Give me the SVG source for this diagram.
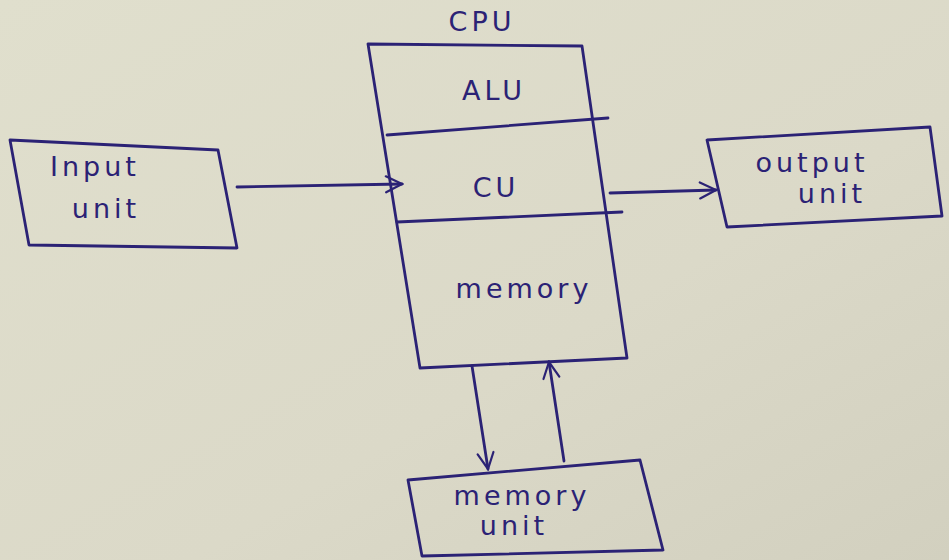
<svg xmlns="http://www.w3.org/2000/svg" width="949" height="560" viewBox="0 0 949 560">
<defs>
<linearGradient id="paper" x1="0" y1="0" x2="1" y2="1">
<stop offset="0" stop-color="#e0dfcd"/>
<stop offset="0.6" stop-color="#dbd9c8"/>
<stop offset="1" stop-color="#d2d0bf"/>
</linearGradient>
<marker id="ah" viewBox="0 0 20 20" refX="18" refY="10" markerWidth="20" markerHeight="20" markerUnits="userSpaceOnUse" orient="auto">
<path d="M2,2 L18,10 L2,18" fill="none" stroke="#2b2275" stroke-width="2.2" stroke-linecap="round"/>
</marker>
</defs>
<style>
.box{fill:none;stroke:#2b2275;stroke-width:2.8;stroke-linejoin:round}
.ln{fill:none;stroke:#2b2275;stroke-width:2.8;stroke-linecap:round}
.t{font-family:"DejaVu Sans","Liberation Sans",sans-serif;font-size:27px;letter-spacing:4px;fill:#2b2275;text-anchor:middle}
</style>
<rect width="949" height="560" fill="url(#paper)"/>
<g id="cpu">
<path class="box" d="M368,44 L582,46 L627,358 L420,368 Z"/>
<path class="ln" d="M387,135 L608,118"/>
<path class="ln" d="M397,222 L622,212"/>
<text class="t" x="482" y="31">CPU</text>
<text class="t" x="494" y="100">ALU</text>
<text class="t" x="496" y="197">CU</text>
<text class="t" x="524" y="298">memory</text>
</g>
<g id="input-unit">
<path class="box" d="M10,140 L218,150 L237,248 L29,245 Z"/>
<text class="t" x="95" y="176">Input</text>
<text class="t" x="106" y="218">unit</text>
</g>
<g id="output-unit">
<path class="box" d="M707,140 L930,127 L942,216 L727,227 Z"/>
<text class="t" x="812" y="172">output</text>
<text class="t" x="832" y="203">unit</text>
</g>
<g id="memory-unit">
<path class="box" d="M408,480 L640,460 L663,550 L422,556 Z"/>
<text class="t" x="522" y="505">memory</text>
<text class="t" x="514" y="535">unit</text>
</g>
<g id="connectors">
<path class="ln" d="M237,187 L402,184" marker-end="url(#ah)"/>
<path class="ln" d="M610,193 L716,190" marker-end="url(#ah)"/>
<path class="ln" d="M472,366 L488,469" marker-end="url(#ah)"/>
<path class="ln" d="M564,461 L549,362" marker-end="url(#ah)"/>
</g>
</svg>
